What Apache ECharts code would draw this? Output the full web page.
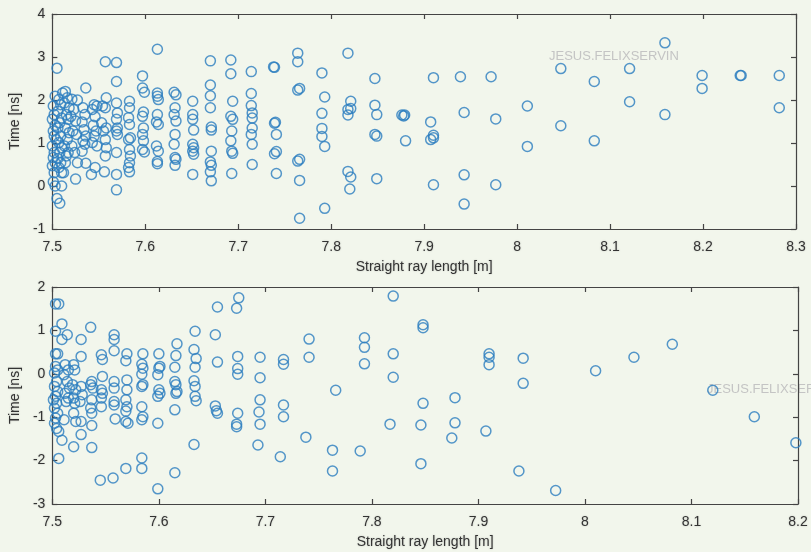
<!DOCTYPE html>
<html><head><meta charset="utf-8">
<script src="https://cdn.jsdelivr.net/npm/echarts@6/dist/echarts.min.js"></script>
<style>html,body{margin:0;padding:0;background:#f2f6ec;}#c{width:811px;height:552px;}</style>
</head><body><div id="c"></div>
<script>
// Top subplot
const topX = [
7.505,7.503,7.501,7.502,7.500,7.503,7.501,7.502,7.504,7.500,7.502,7.501,7.503,7.500,7.502,7.501,7.503,7.505,7.508,
7.511,7.507,7.509,7.506,7.510,7.508,7.506,7.509,7.507,7.510,7.508,7.506,7.509,7.507,7.510,7.510,
7.514,7.516,7.513,7.518,7.515,7.517,7.514,7.518,7.516,7.513,7.517,7.515,7.514,7.512,
7.521,7.527,7.523,7.520,7.525,7.522,7.526,7.521,7.524,7.527,7.525,
7.536,7.533,7.535,7.532,7.534,7.536,7.533,7.535,7.532,7.536,
7.545,7.548,7.543,7.546,7.544,7.547,7.545,7.543,7.548,7.546,7.542,
7.554,7.553,7.555,
7.557,7.558,7.557,7.558,7.557,7.558,7.557,7.556,
7.569,7.569,7.569,7.570,7.569,7.570,7.569,7.570,7.569,7.569,7.569,
7.583,7.583,7.582,7.583,7.584,7.582,7.583,7.584,7.583,7.582,7.583,
7.597,7.597,7.599,7.598,7.597,7.598,7.597,7.598,7.597,7.599,
7.613,7.613,7.613,7.614,7.613,7.612,7.614,7.612,7.614,7.613,7.613,
7.631,7.633,7.632,7.631,7.633,7.632,7.631,7.632,7.633,7.632,
7.651,7.651,7.651,7.652,7.651,7.652,7.651,7.652,7.651,
7.670,7.670,7.670,7.670,7.671,7.671,7.671,7.670,7.671,7.670,7.671,
7.692,7.692,7.694,7.692,7.694,7.693,7.692,7.693,7.694,7.693,
7.714,7.714,7.714,7.715,7.715,7.715,7.714,7.715,7.715,
7.738,7.739,7.739,7.740,7.741,7.739,7.741,7.741,
7.764,7.764,7.764,7.766,7.764,7.766,7.766,7.766,
7.790,7.793,7.790,7.790,7.790,7.793,7.793,
7.818,7.821,7.818,7.821,7.818,7.818,7.821,7.820,
7.847,7.847,7.849,7.847,7.849,7.849,
7.876,7.879,7.878,7.880,
7.910,7.907,7.907,7.910,7.910,7.910,
7.939,7.943,7.943,7.943,
7.972,7.977,7.977,
8.011,8.011,8.047,8.047,8.083,8.083,8.121,8.121,8.159,8.159,8.199,8.199,8.240,8.241,8.282,8.282
];
const topY = [
2.74,2.09,1.86,1.66,1.55,1.41,1.28,1.16,1.08,0.93,0.78,0.66,0.54,0.47,0.31,0.10,0.00,-0.29,-0.40,
2.16,2.01,1.89,1.74,1.58,1.47,1.35,1.16,1.01,0.89,0.78,0.64,0.54,0.43,0.31,0.00,
2.20,2.05,1.93,1.82,1.66,1.55,1.35,1.24,1.08,0.93,0.78,0.70,0.54,0.31,
2.02,2.00,1.78,1.62,1.51,1.28,1.20,0.93,0.78,0.54,0.16,
2.28,1.82,1.66,1.49,1.31,1.16,1.05,0.97,0.81,0.53,
1.89,1.86,1.78,1.61,1.41,1.28,1.16,1.01,0.93,0.43,0.27,
1.86,1.47,1.28,
2.89,2.05,1.82,1.35,1.08,0.89,0.70,0.33,
2.87,2.43,1.93,1.70,1.55,1.35,1.28,1.20,0.78,0.27,-0.09,
1.97,1.82,1.59,1.43,1.12,1.08,0.85,0.70,0.54,0.43,0.33,
2.56,2.28,2.18,1.72,1.62,1.35,1.20,1.05,0.85,0.79,
3.18,2.16,2.09,2.01,1.66,1.49,1.43,0.93,0.81,0.57,0.52,
2.18,2.12,1.82,1.66,1.51,1.20,0.97,0.66,0.62,0.48,
1.97,1.66,1.55,1.30,0.97,0.89,0.81,0.74,0.27,
2.91,2.35,2.10,1.82,1.37,1.30,0.81,0.56,0.48,0.33,0.12,
2.93,2.61,1.97,1.62,1.55,1.28,1.05,0.81,0.76,0.29,
2.66,2.15,1.87,1.70,1.58,1.35,1.20,0.97,0.50,
2.77,2.76,1.46,1.48,1.20,0.75,0.80,0.29,
3.09,2.89,2.23,2.27,0.58,0.62,0.13,-0.75,
2.63,2.07,1.69,1.34,1.15,0.92,-0.52,
3.09,1.97,1.78,1.80,1.65,0.34,0.21,-0.07,
2.50,1.88,1.66,1.20,1.16,0.17,
1.65,1.65,1.63,1.05,
2.52,1.49,1.08,1.18,1.12,0.03,
2.54,1.71,0.26,-0.42,
2.54,1.56,0.03,
1.86,0.92,2.73,1.40,2.43,1.05,2.73,1.96,3.33,1.66,2.57,2.27,2.57,2.57,2.57,1.82
];
// Bottom subplot
const botX = [
7.503,7.506,7.509,7.503,7.514,7.509,7.503,7.505,7.503,7.505,7.502,7.504,7.502,7.505,7.503,7.501,7.504,7.502,7.505,7.503,7.502,7.504,7.506,7.509,7.506,
7.512,7.515,7.511,7.514,7.516,7.512,7.515,7.513,7.511,
7.520,7.521,7.519,7.522,7.520,7.521,7.520,7.522,7.520,
7.527,7.527,7.527,7.528,7.526,7.527,7.527,
7.536,7.537,7.536,7.538,7.537,7.536,7.537,7.537,7.537,
7.546,7.547,7.547,7.546,7.547,7.546,7.546,7.545,
7.558,7.558,7.558,7.558,7.558,7.558,7.558,7.559,7.557,
7.570,7.569,7.570,7.570,7.569,7.570,7.569,7.569,7.571,7.569,
7.585,7.584,7.585,7.584,7.585,7.584,7.584,7.585,7.584,7.584,7.584,
7.600,7.601,7.600,7.599,7.600,7.601,7.599,7.599,7.599,
7.617,7.616,7.615,7.615,7.616,7.617,7.616,7.615,7.615,
7.634,7.633,7.635,7.634,7.633,7.634,7.634,7.635,7.633,
7.655,7.653,7.655,7.653,7.654,7.655,
7.675,7.673,7.674,7.674,7.674,7.674,7.673,7.673,
7.695,7.695,7.695,7.694,7.695,7.693,
7.717,7.717,7.717,7.717,7.714,
7.741,7.741,7.738,
7.766,7.763,7.763,
7.793,7.793,7.793,7.789,
7.820,7.820,7.820,7.817,
7.848,7.848,7.848,7.846,7.846,
7.878,7.878,7.875,
7.910,7.910,7.910,7.907,
7.942,7.942,7.938,
7.9725,8.010,8.046,8.082,8.120,8.159,8.198
];
const botY = [
1.61,1.61,1.15,0.98,0.90,0.79,0.46,0.46,0.17,0.09,0.02,-0.18,-0.29,-0.41,-0.52,-0.60,-0.68,-0.79,-0.91,-1.02,-1.14,-1.26,-1.33,-1.53,-1.95,
0.21,0.09,-0.02,-0.18,-0.33,-0.45,-0.56,-0.64,-1.06,
0.21,0.09,-0.25,-0.37,-0.56,-0.68,-0.91,-1.10,-1.68,
0.79,0.40,-0.29,-0.48,-0.64,-1.10,-1.40,
1.07,-0.18,-0.25,-0.33,-0.60,-0.79,-0.91,-1.19,-1.70,
0.44,0.33,-0.06,-0.37,-0.45,-0.56,-0.76,-2.45,
0.90,0.79,0.53,-0.18,-0.33,-0.64,-0.72,-1.04,-2.40,
0.46,0.30,-0.14,-0.37,-0.60,-0.76,-0.86,-1.10,-1.14,-2.18,
0.46,0.22,0.13,-0.01,-0.25,-0.29,-0.76,-0.99,-1.06,-1.94,-2.18,
0.46,0.17,0.13,-0.02,-0.37,-0.45,-0.52,-1.14,-2.65,
0.69,0.42,0.15,-0.18,-0.25,-0.41,-0.45,-0.83,-2.28,
0.98,0.56,0.35,0.15,-0.16,-0.29,-0.52,-0.62,-1.63,
1.54,0.90,0.27,-0.74,-0.85,-0.91,
1.75,1.51,0.40,0.12,-0.01,-0.91,-1.16,-1.22,
0.38,-0.09,-0.60,-0.88,-1.16,-1.64,
0.33,0.22,-0.72,-0.99,-1.91,
0.80,0.38,-1.46,
-0.38,-1.76,-2.24,
0.83,0.61,0.23,-1.78,
1.79,0.46,-0.08,-1.16,
1.13,1.06,-0.68,-1.18,-2.07,
-0.55,-1.13,-1.48,
0.46,0.38,0.21,-1.32,
0.36,-0.22,-2.24,
-2.69,0.07,0.38,0.68,-0.38,-0.99,-1.59
];
const xLabel = 'Straight ray length [m]';
const yLabel = 'Time [ns]';
const watermark = 'JESUS.FELIXSERVIN';

const AX = '#444', TXT = '#333', FONT = 'Liberation Sans';
const shadow = {textShadowColor:'rgba(0,0,0,0.22)', textShadowBlur:2};
const pts = (xs, ys) => xs.map((x, i) => [x, ys[i]]);
function xAx(grid, min, max, pos, main) {
  return {type:'value', gridIndex:grid, min, max, interval:0.1, position:pos,
    axisLine:{show:true, onZero:false, lineStyle:{color:AX, width:1.2}},
    axisTick:{show:true, inside:true, length:5, lineStyle:{color:AX, width:1.2}},
    axisLabel:Object.assign({show:main, color:TXT, fontFamily:FONT, fontSize:14, margin:11,
      formatter: v => String(+v.toFixed(2))}, shadow),
    splitLine:{show:false},
    name: main ? xLabel : '', nameLocation:'middle', nameGap:31,
    nameTextStyle:Object.assign({color:TXT, fontFamily:FONT, fontSize:14}, shadow)};
}
function yAx(grid, min, max, pos, main) {
  return {type:'value', gridIndex:grid, min, max, interval:1, position:pos,
    axisLine:{show:true, onZero:false, lineStyle:{color:AX, width:1.2}},
    axisTick:{show:true, inside:true, length:5, lineStyle:{color:AX, width:1.2}},
    axisLabel:Object.assign({show:main, color:TXT, fontFamily:FONT, fontSize:14, margin:7}, shadow),
    splitLine:{show:false},
    name: main ? yLabel : '', nameLocation:'middle', nameGap:23,
    nameTextStyle:Object.assign({color:TXT, fontFamily:FONT, fontSize:14}, shadow)};
}
const sym = {symbol:'circle', symbolSize:10, clip:false,
  itemStyle:{color:'rgba(0,0,0,0)', borderColor:'#2a7dbf', borderWidth:1.5}};

const chart = echarts.init(document.getElementById('c'), null, {renderer:'canvas'});
chart.setOption({
  backgroundColor:'#f2f6ec',
  animation:false,
  grid:[{left:49, top:14, width:747, height:215},{left:52, top:287, width:746, height:217}],
  xAxis:[xAx(0,7.5,8.3,'bottom',true), xAx(0,7.5,8.3,'top',false), xAx(1,7.5,8.2,'bottom',true), xAx(1,7.5,8.2,'top',false)],
  yAxis:[yAx(0,-1,4,'left',true), yAx(0,-1,4,'right',false), yAx(1,-3,2,'left',true), yAx(1,-3,2,'right',false)],
  series:[
    Object.assign({type:'scatter', xAxisIndex:0, yAxisIndex:0, data:pts(topX, topY)}, sym),
    Object.assign({type:'scatter', xAxisIndex:2, yAxisIndex:2, data:pts(botX, botY)}, sym)
  ],
  graphic:[
    {type:'text', left:549, top:50, style:{text:watermark, fill:'#c4c4c4', font:'13px Liberation Sans'}},
    {type:'text', left:707, top:383, style:{text:watermark, fill:'#c4c4c4', font:'13px Liberation Sans'}}
  ]
});
</script></body></html>
